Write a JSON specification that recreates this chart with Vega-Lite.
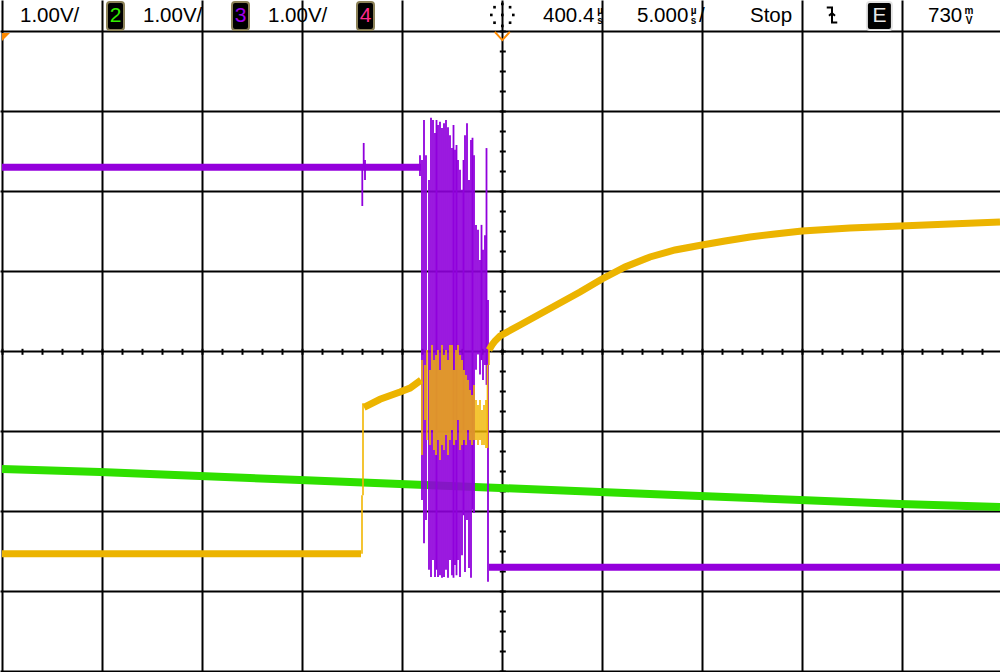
{
  "$schema": "https://vega.github.io/schema/vega-lite/v6.json",
  "width": 1000,
  "height": 672,
  "autosize": "none",
  "padding": 0,
  "background": "white",
  "config": {"view": {"stroke": null}},
  "resolve": {"axis": {"x": "independent", "y": "independent"}},
  "datasets": {
    "green": [
      {"t": -25.015, "v": -1.471}, {"t": -20.115, "v": -1.509}, {"t": -15.115, "v": -1.559},
      {"t": -10.115, "v": -1.609}, {"t": -5.115, "v": -1.659}, {"t": -0.115, "v": -1.709},
      {"t": 4.885, "v": -1.759}, {"t": 9.885, "v": -1.809}, {"t": 14.885, "v": -1.859},
      {"t": 19.885, "v": -1.909}, {"t": 24.885, "v": -1.946}
    ],
    "purple": [
      {"seg": "P1", "t": -25.015, "v": 2.30}, {"seg": "P1", "t": -4.065, "v": 2.30},
      {"seg": "P3", "t": -0.665, "v": -2.70}, {"seg": "P3", "t": 24.885, "v": -2.70}
    ],
    "prules": [
      {"t": -7.0, "v": 2.30, "v2": 1.816}, {"t": -6.93, "v": 2.30, "v2": 2.604},
      {"t": -6.865, "v": 2.39, "v2": 2.14}, {"t": -4.115, "v": 2.45, "v2": 2.19},
      {"t": -4.015, "v": 2.39, "v2": -1.86}, {"t": -3.915, "v": 2.89, "v2": -2.40},
      {"t": -3.815, "v": 2.45, "v2": -2.11}, {"t": -3.665, "v": 2.14, "v2": -2.73},
      {"t": -3.565, "v": 2.92, "v2": -2.82}, {"t": -3.465, "v": 2.89, "v2": -2.61},
      {"t": -3.365, "v": 2.73, "v2": -2.82}, {"t": -3.29, "v": 2.89, "v2": -2.73},
      {"t": -3.215, "v": 2.83, "v2": -2.82}, {"t": -3.115, "v": 2.87, "v2": -2.80},
      {"t": -3.015, "v": 2.79, "v2": -2.83}, {"t": -2.915, "v": 2.85, "v2": -2.82},
      {"t": -2.815, "v": 2.89, "v2": -2.73}, {"t": -2.715, "v": 2.80, "v2": -2.83},
      {"t": -2.615, "v": 2.70, "v2": -2.61}, {"t": -2.515, "v": 2.54, "v2": -2.80},
      {"t": -2.44, "v": 2.83, "v2": -2.83}, {"t": -2.365, "v": 2.52, "v2": -2.67},
      {"t": -2.29, "v": 2.58, "v2": -2.80}, {"t": -2.215, "v": 2.39, "v2": -2.61},
      {"t": -2.115, "v": 2.27, "v2": -2.82}, {"t": -2.015, "v": 2.02, "v2": -2.55},
      {"t": -1.94, "v": 2.39, "v2": -2.05}, {"t": -1.865, "v": 2.70, "v2": -2.76},
      {"t": -1.765, "v": 2.85, "v2": -2.11}, {"t": -1.665, "v": 2.14, "v2": -2.71},
      {"t": -1.565, "v": 2.64, "v2": -2.83}, {"t": -1.49, "v": 2.67, "v2": -1.98},
      {"t": -1.415, "v": 2.45, "v2": -2.02}, {"t": -1.315, "v": 1.58, "v2": -0.23},
      {"t": -1.215, "v": 1.52, "v2": -0.04}, {"t": -1.115, "v": 1.14, "v2": -0.29},
      {"t": -1.04, "v": 1.58, "v2": -0.11}, {"t": -0.965, "v": 1.27, "v2": -0.36},
      {"t": -0.865, "v": 1.45, "v2": -0.17}, {"t": -0.79, "v": 2.54, "v2": -0.42},
      {"t": -0.715, "v": 0.64, "v2": -2.88}
    ],
    "yellow": [
      {"seg": "Y1", "t": -25.015, "v": -2.53}, {"seg": "Y1", "t": -7.065, "v": -2.53},
      {"seg": "Y2", "t": -6.915, "v": -0.70}, {"seg": "Y2", "t": -6.115, "v": -0.60},
      {"seg": "Y2", "t": -5.115, "v": -0.51}, {"seg": "Y2", "t": -4.615, "v": -0.46},
      {"seg": "Y2", "t": -4.065, "v": -0.36},
      {"seg": "Y3", "t": -0.665, "v": 0.016}, {"seg": "Y3", "t": -0.515, "v": 0.079},
      {"seg": "Y3", "t": -0.365, "v": 0.129}, {"seg": "Y3", "t": -0.115, "v": 0.191},
      {"seg": "Y3", "t": 0.885, "v": 0.329}, {"seg": "Y3", "t": 1.885, "v": 0.466},
      {"seg": "Y3", "t": 2.885, "v": 0.604}, {"seg": "Y3", "t": 3.885, "v": 0.741},
      {"seg": "Y3", "t": 4.985, "v": 0.904}, {"seg": "Y3", "t": 6.135, "v": 1.054},
      {"seg": "Y3", "t": 7.385, "v": 1.179}, {"seg": "Y3", "t": 8.635, "v": 1.266},
      {"seg": "Y3", "t": 9.985, "v": 1.329}, {"seg": "Y3", "t": 11.135, "v": 1.379},
      {"seg": "Y3", "t": 12.385, "v": 1.429}, {"seg": "Y3", "t": 13.635, "v": 1.466},
      {"seg": "Y3", "t": 14.985, "v": 1.504}, {"seg": "Y3", "t": 17.385, "v": 1.541},
      {"seg": "Y3", "t": 19.885, "v": 1.566}, {"seg": "Y3", "t": 22.385, "v": 1.591},
      {"seg": "Y3", "t": 24.885, "v": 1.616}
    ],
    "yrules": [
      {"t": -7.015, "v": -2.53, "v2": -1.80}, {"t": -6.965, "v": -1.80, "v2": -0.65},
      {"t": -4.015, "v": -0.109, "v2": -1.296}, {"t": -3.865, "v": -0.171, "v2": -0.859},
      {"t": -3.765, "v": 0.016, "v2": -1.109}, {"t": -3.615, "v": -0.234, "v2": -1.171},
      {"t": -3.515, "v": 0.079, "v2": -0.984}, {"t": -3.415, "v": -0.109, "v2": -1.234},
      {"t": -3.315, "v": -0.046, "v2": -1.296}, {"t": -3.215, "v": 0.016, "v2": -1.109},
      {"t": -3.115, "v": -0.234, "v2": -1.359}, {"t": -3.015, "v": 0.079, "v2": -1.171},
      {"t": -2.915, "v": -0.046, "v2": -1.234}, {"t": -2.815, "v": 0.016, "v2": -1.046},
      {"t": -2.715, "v": -0.109, "v2": -1.296}, {"t": -2.615, "v": 0.079, "v2": -1.109},
      {"t": -2.515, "v": 0.079, "v2": -0.984}, {"t": -2.415, "v": -0.234, "v2": -1.171},
      {"t": -2.315, "v": 0.016, "v2": -1.109}, {"t": -2.215, "v": 0.079, "v2": -0.859},
      {"t": -2.115, "v": -0.046, "v2": -1.234}, {"t": -2.015, "v": -0.109, "v2": -1.171},
      {"t": -1.915, "v": -0.234, "v2": -1.109}, {"t": -1.815, "v": -0.296, "v2": -1.171},
      {"t": -1.715, "v": -0.359, "v2": -0.984}, {"t": -1.615, "v": -0.484, "v2": -1.109},
      {"t": -1.515, "v": -0.546, "v2": -1.171}, {"t": -1.415, "v": -0.421, "v2": -1.109},
      {"t": -1.315, "v": -0.609, "v2": -1.109}, {"t": -1.215, "v": -0.671, "v2": -1.171},
      {"t": -1.115, "v": -0.609, "v2": -1.109}, {"t": -1.015, "v": -0.734, "v2": -1.171},
      {"t": -0.915, "v": -0.671, "v2": -1.171}, {"t": -0.815, "v": -0.609, "v2": -1.209},
      {"t": -0.74, "v": -1.21, "v2": -0.17}, {"t": -0.665, "v": -0.17, "v2": 0.08}
    ],
    "labels": [
      {"txt": "1.00V/", "t": -24.115, "v": 4.116},
      {"txt": "1.00V/", "t": -17.965, "v": 4.116},
      {"txt": "1.00V/", "t": -11.715, "v": 4.116},
      {"txt": "400.4", "t": 2.035, "v": 4.116},
      {"txt": "5.000", "t": 6.735, "v": 4.116},
      {"txt": "/", "t": 9.835, "v": 4.116},
      {"txt": "Stop", "t": 12.385, "v": 4.116},
      {"txt": "730", "t": 21.285, "v": 4.116}
    ],
    "units": [
      {"txt": "µ\ns", "t": 4.885, "v": 4.222},
      {"txt": "µ\ns", "t": 9.56, "v": 4.222},
      {"txt": "m\nV", "t": 23.335, "v": 4.222}
    ],
    "badges": [
      {"label": "2", "t": -19.765, "t2": -18.915, "tc": -19.34, "v": 4.016, "v2": 4.366},
      {"label": "3", "t": -13.515, "t2": -12.665, "tc": -13.09, "v": 4.016, "v2": 4.366},
      {"label": "4", "t": -7.265, "t2": -6.415, "tc": -6.84, "v": 4.016, "v2": 4.366},
      {"label": "E", "t": 18.23, "t2": 19.48, "tc": 18.855, "v": 4.016, "v2": 4.366}
    ],
    "sun": [
      {"t": 0.55, "v": 4.204}, {"t": -0.55, "v": 4.204}, {"t": 0, "v": 4.342},
      {"t": 0, "v": 4.067}, {"t": 0.389, "v": 4.301}, {"t": -0.389, "v": 4.301},
      {"t": 0.389, "v": 4.107}, {"t": -0.389, "v": 4.107}, {"t": 0, "v": 4.204}
    ],
    "gndmark": [{"t": -24.815, "v": 3.929}],
    "trigpos": [{"t": 0, "v": 3.941}],
    "trigicon": [{"t": 16.485, "v": 4.204}]
  },
  "layer": [
    {
      "data": {"name": "green"},
      "mark": {"type": "line", "color": "#2fe000", "strokeWidth": 8, "strokeCap": "butt"},
      "encoding": {
        "x": {"field": "t", "type": "quantitative", "scale": {"domain": [-25.115, 24.885], "nice": false, "zero": false},
          "axis": {"orient": "bottom", "values": [-25, -20, -15, -10, -5, 0, 5, 10, 15, 20], "grid": true, "gridColor": "#000000", "gridWidth": 2, "gridOpacity": 1, "domain": false, "ticks": false, "labels": false, "title": null}},
        "y": {"field": "v", "type": "quantitative", "scale": {"domain": [-4.009, 4.391], "nice": false, "zero": false},
          "axis": {"orient": "left", "values": [-4, -3, -2, -1, 0, 1, 2, 3, 4], "grid": true, "gridColor": "#000000", "gridWidth": 2, "gridOpacity": 1, "domain": false, "ticks": false, "labels": false, "title": null}}
      }
    },
    {
      "data": {"name": "purple"},
      "mark": {"type": "line", "color": "#9400dc", "strokeWidth": 7, "strokeCap": "butt"},
      "encoding": {
        "detail": {"field": "seg"},
        "x": {"field": "t", "type": "quantitative", "scale": {"domain": [-25.115, 24.885], "nice": false, "zero": false},
          "axis": {"orient": "bottom", "offset": -320.7, "values": [-25, -24, -23, -22, -21, -20, -19, -18, -17, -16, -15, -14, -13, -12, -11, -10, -9, -8, -7, -6, -5, -4, -3, -2, -1, 0, 1, 2, 3, 4, 5, 6, 7, 8, 9, 10, 11, 12, 13, 14, 15, 16, 17, 18, 19, 20, 21, 22, 23, 24], "grid": false, "domain": false, "ticks": true, "tickSize": 3, "tickWidth": 2, "tickColor": "#000000", "labels": false, "title": null}},
        "y": {"field": "v", "type": "quantitative", "scale": {"domain": [-4.009, 4.391], "nice": false, "zero": false},
          "axis": {"orient": "left", "offset": -502.3, "values": [-4, -3.75, -3.5, -3.25, -3, -2.75, -2.5, -2.25, -2, -1.75, -1.5, -1.25, -1, -0.75, -0.5, -0.25, 0, 0.25, 0.5, 0.75, 1, 1.25, 1.5, 1.75, 2, 2.25, 2.5, 2.75, 3, 3.25, 3.5, 3.75, 4], "grid": false, "domain": false, "ticks": true, "tickSize": 3, "tickWidth": 2, "tickColor": "#000000", "labels": false, "title": null}}
      }
    },
    {
      "data": {"name": "prules"},
      "mark": {"type": "rule", "color": "#9000dc", "strokeWidth": 1.8},
      "encoding": {
        "x": {"field": "t", "type": "quantitative", "scale": {"domain": [-25.115, 24.885], "nice": false, "zero": false}, "axis": null},
        "y": {"field": "v", "type": "quantitative", "scale": {"domain": [-4.009, 4.391], "nice": false, "zero": false}, "axis": null},
        "y2": {"field": "v2"}
      }
    },
    {
      "data": {"name": "yellow"},
      "mark": {"type": "line", "color": "#ecb400", "strokeWidth": 7, "strokeCap": "butt"},
      "encoding": {
        "detail": {"field": "seg"},
        "x": {"field": "t", "type": "quantitative", "scale": {"domain": [-25.115, 24.885], "nice": false, "zero": false},
          "axis": {"orient": "top", "offset": -351.3, "values": [-25, -24, -23, -22, -21, -20, -19, -18, -17, -16, -15, -14, -13, -12, -11, -10, -9, -8, -7, -6, -5, -4, -3, -2, -1, 0, 1, 2, 3, 4, 5, 6, 7, 8, 9, 10, 11, 12, 13, 14, 15, 16, 17, 18, 19, 20, 21, 22, 23, 24], "grid": false, "domain": false, "ticks": true, "tickSize": 3, "tickWidth": 2, "tickColor": "#000000", "labels": false, "title": null}},
        "y": {"field": "v", "type": "quantitative", "scale": {"domain": [-4.009, 4.391], "nice": false, "zero": false},
          "axis": {"orient": "right", "offset": -497.7, "values": [-4, -3.75, -3.5, -3.25, -3, -2.75, -2.5, -2.25, -2, -1.75, -1.5, -1.25, -1, -0.75, -0.5, -0.25, 0, 0.25, 0.5, 0.75, 1, 1.25, 1.5, 1.75, 2, 2.25, 2.5, 2.75, 3, 3.25, 3.5, 3.75, 4], "grid": false, "domain": false, "ticks": true, "tickSize": 3, "tickWidth": 2, "tickColor": "#000000", "labels": false, "title": null}}
      }
    },
    {
      "data": {"name": "yrules"},
      "mark": {"type": "rule", "color": "#f2b600", "strokeWidth": 1.6},
      "encoding": {
        "x": {"field": "t", "type": "quantitative", "scale": {"domain": [-25.115, 24.885], "nice": false, "zero": false}, "axis": null},
        "y": {"field": "v", "type": "quantitative", "scale": {"domain": [-4.009, 4.391], "nice": false, "zero": false}, "axis": null},
        "y2": {"field": "v2"}
      }
    },
    {
      "data": {"name": "gndmark"},
      "mark": {"type": "point", "shape": "M-1,-1 L1,-1 L-1,1 Z", "filled": true, "color": "#ff8a00", "size": 64, "opacity": 1},
      "encoding": {
        "x": {"field": "t", "type": "quantitative", "scale": {"domain": [-25.115, 24.885], "nice": false, "zero": false}, "axis": null},
        "y": {"field": "v", "type": "quantitative", "scale": {"domain": [-4.009, 4.391], "nice": false, "zero": false}, "axis": null}
      }
    },
    {
      "data": {"name": "trigpos"},
      "mark": {"type": "point", "shape": "M-1,-0.55 L0,0.55 L1,-0.55", "filled": false, "stroke": "#ff8a00", "strokeWidth": 2, "size": 225, "opacity": 1},
      "encoding": {
        "x": {"field": "t", "type": "quantitative", "scale": {"domain": [-25.115, 24.885], "nice": false, "zero": false}, "axis": null},
        "y": {"field": "v", "type": "quantitative", "scale": {"domain": [-4.009, 4.391], "nice": false, "zero": false}, "axis": null}
      }
    },
    {
      "mark": {"type": "rect", "color": "#7b9ccb"},
      "encoding": {
        "x": {"datum": -26, "type": "quantitative", "scale": {"domain": [-25.115, 24.885], "nice": false, "zero": false}, "axis": null},
        "x2": {"datum": 26},
        "y": {"datum": 3.996, "type": "quantitative", "scale": {"domain": [-4.009, 4.391], "nice": false, "zero": false}, "axis": null},
        "y2": {"datum": 4.5}
      }
    },
    {
      "data": {"name": "badges"},
      "mark": {"type": "rect", "fill": "#000000", "strokeWidth": 2, "cornerRadius": 3},
      "encoding": {
        "stroke": {"condition": {"test": "datum.label === 'E'", "value": "#e4e4e4"}, "value": "#8c8258"},
        "x": {"field": "t", "type": "quantitative", "scale": {"domain": [-25.115, 24.885], "nice": false, "zero": false}, "axis": null},
        "x2": {"field": "t2"},
        "y": {"field": "v", "type": "quantitative", "scale": {"domain": [-4.009, 4.391], "nice": false, "zero": false}, "axis": null},
        "y2": {"field": "v2"}
      }
    },
    {
      "data": {"name": "badges"},
      "mark": {"type": "text", "font": "Liberation Sans", "fontSize": 21, "align": "center", "baseline": "alphabetic"},
      "encoding": {
        "text": {"field": "label"},
        "color": {"field": "label", "type": "nominal", "scale": {"domain": ["2", "3", "4", "E"], "range": ["#33ee00", "#a000ee", "#ff2a8c", "#e6e6e6"]}, "legend": null},
        "x": {"field": "tc", "type": "quantitative", "scale": {"domain": [-25.115, 24.885], "nice": false, "zero": false}, "axis": null},
        "y": {"datum": 4.116, "type": "quantitative", "scale": {"domain": [-4.009, 4.391], "nice": false, "zero": false}, "axis": null}
      }
    },
    {
      "data": {"name": "labels"},
      "mark": {"type": "text", "font": "Liberation Sans", "fontSize": 20.5, "align": "left", "baseline": "alphabetic", "color": "#000000"},
      "encoding": {
        "text": {"field": "txt"},
        "x": {"field": "t", "type": "quantitative", "scale": {"domain": [-25.115, 24.885], "nice": false, "zero": false}, "axis": null},
        "y": {"field": "v", "type": "quantitative", "scale": {"domain": [-4.009, 4.391], "nice": false, "zero": false}, "axis": null}
      }
    },
    {
      "data": {"name": "units"},
      "mark": {"type": "text", "font": "Liberation Sans", "fontSize": 10, "fontWeight": "bold", "align": "center", "baseline": "alphabetic", "color": "#000000", "lineBreak": "\n", "lineHeight": 10},
      "encoding": {
        "text": {"field": "txt"},
        "x": {"field": "t", "type": "quantitative", "scale": {"domain": [-25.115, 24.885], "nice": false, "zero": false}, "axis": null},
        "y": {"field": "v", "type": "quantitative", "scale": {"domain": [-4.009, 4.391], "nice": false, "zero": false}, "axis": null}
      }
    },
    {
      "data": {"name": "sun"},
      "mark": {"type": "point", "shape": "square", "filled": true, "color": "#000000", "size": 7, "opacity": 1},
      "encoding": {
        "x": {"field": "t", "type": "quantitative", "scale": {"domain": [-25.115, 24.885], "nice": false, "zero": false}, "axis": null},
        "y": {"field": "v", "type": "quantitative", "scale": {"domain": [-4.009, 4.391], "nice": false, "zero": false}, "axis": null}
      }
    },
    {
      "data": {"name": "trigicon"},
      "mark": {"type": "point", "shape": "M-0.7,-1 L0,-1 L0,1 L0.7,1 M-0.4,0.1 L0,-0.25 L0.4,0.1", "filled": false, "stroke": "#000000", "strokeWidth": 2, "size": 225, "opacity": 1},
      "encoding": {
        "x": {"field": "t", "type": "quantitative", "scale": {"domain": [-25.115, 24.885], "nice": false, "zero": false}, "axis": null},
        "y": {"field": "v", "type": "quantitative", "scale": {"domain": [-4.009, 4.391], "nice": false, "zero": false}, "axis": null}
      }
    }
  ]
}
